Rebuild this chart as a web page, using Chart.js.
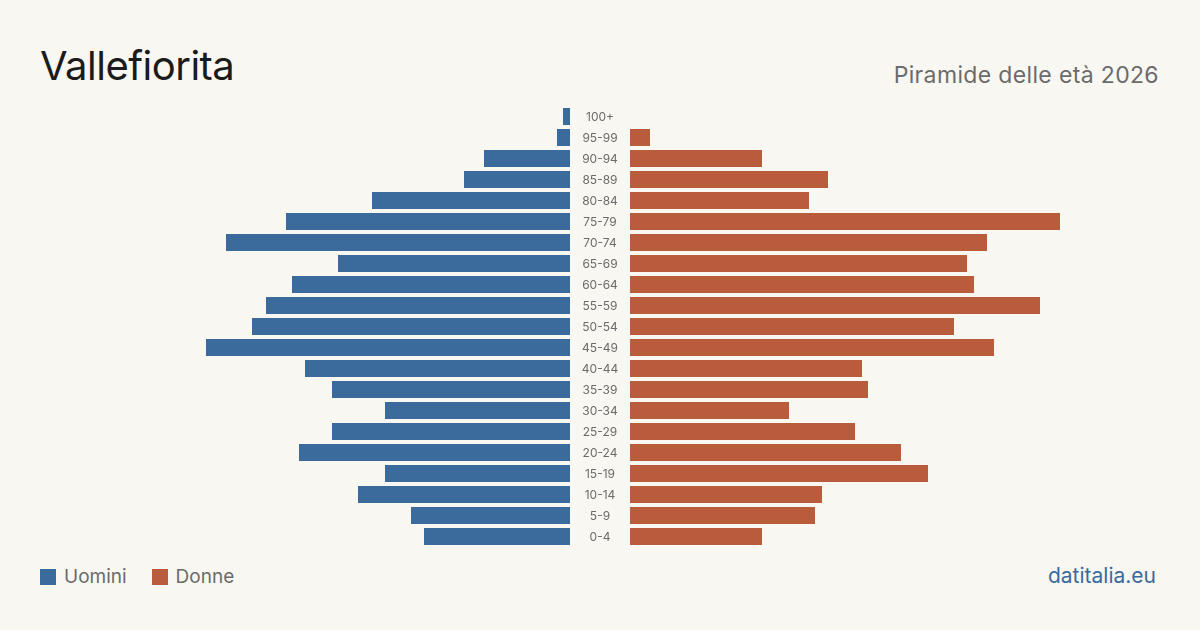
<!DOCTYPE html>
<html>
<head>
<meta charset="utf-8">
<script src="https://cdn.jsdelivr.net/npm/chart.js@4"></script>
<style>
  body { margin: 0; background: #f9f7f2; font-family: Inter, "Liberation Sans", sans-serif; }
  #page { position: relative; width: 1200px; height: 630px; overflow: hidden; }
  #title { position: absolute; left: 40px; top: 41px; font-size: 40px; color: #1b1b1b; letter-spacing: -0.5px; }
  #subtitle { position: absolute; right: 41px; top: 61px; font-size: 23px; color: #6b6b6b; letter-spacing: 0.35px; }
  .box { position: absolute; }
  #legend { position: absolute; left: 40px; top: 565px; font-size: 19px; color: #6b6b6b; display: flex; align-items: center; }
  .sw { width: 16px; height: 16px; display: inline-block; margin-right: 8px; }
  .item { display: flex; align-items: center; margin-right: 25px; }
  #source { position: absolute; right: 44px; top: 563px; font-size: 21px; color: #3b6a9c; }
</style>
</head>
<body>
<div id="page">
  <div id="title">Vallefiorita</div>
  <div id="subtitle">Piramide delle età 2026</div>
  <div class="box" style="left:40px; top:106px; width:530px; height:441px;"><canvas id="men"></canvas></div>
  <div class="box" style="left:570px; top:106px; width:590px; height:441px;"><canvas id="women"></canvas></div>
  <div id="legend">
    <span class="item"><span class="sw" style="background:#3b6a9c"></span>Uomini</span>
    <span class="item"><span class="sw" style="background:#b85c3c"></span>Donne</span>
  </div>
  <div id="source">datitalia.eu</div>
</div>
<script>
// Age classes, oldest first (top of the pyramid)
const ageGroups = ["100+", "95-99", "90-94", "85-89", "80-84", "75-79", "70-74", "65-69", "60-64", "55-59",
  "50-54", "45-49", "40-44", "35-39", "30-34", "25-29", "20-24", "15-19", "10-14", "5-9", "0-4"];
const men = [7, 13, 86, 106, 198, 284, 344, 232, 278, 304, 318, 364, 265, 238, 185, 238, 271, 185, 212, 159, 146];
const women = [0, 20, 132, 198, 179, 430, 357, 337, 344, 410, 324, 364, 232, 238, 159, 225, 271, 298, 192, 185, 132];
const axisMax = 530;

const blue = "#3b6a9c";
const red = "#b85c3c";

function baseOptions(reverse, padLeft) {
  return {
    indexAxis: "y",
    responsive: true,
    maintainAspectRatio: false,
    animation: false,
    layout: { padding: { left: padLeft, right: 0, top: 0, bottom: 0 } },
    plugins: { legend: { display: false }, tooltip: { enabled: false } },
    scales: {
      x: { min: 0, max: axisMax, reverse: reverse, display: false, grid: { display: false } },
      y: { display: false, grid: { display: false } },
    },
  };
}

// draws the age labels centred in the gap between the two halves
const ageLabels = {
  id: "ageLabels",
  afterDraw(chart) {
    const ctx = chart.ctx;
    const y = chart.scales.y;
    const cx = chart.chartArea.left - 30;
    ctx.save();
    ctx.fillStyle = "#6b6b6b";
    ctx.font = "12px Inter, 'Liberation Sans', sans-serif";
    ctx.textAlign = "center";
    ctx.textBaseline = "middle";
    ageGroups.forEach((label, i) => {
      ctx.fillText(label, cx, y.getPixelForValue(i) + 0.5);
    });
    ctx.restore();
  },
};

// Left side: men, bars grow leftwards
new Chart(document.getElementById("men"), {
  type: "bar",
  data: {
    labels: ageGroups,
    datasets: [{ data: men, backgroundColor: blue, barPercentage: 0.81, categoryPercentage: 1 }],
  },
  options: baseOptions(true, 0),
});

// Right side: women
new Chart(document.getElementById("women"), {
  type: "bar",
  data: {
    labels: ageGroups,
    datasets: [{ data: women, backgroundColor: red, barPercentage: 0.81, categoryPercentage: 1 }],
  },
  options: baseOptions(false, 60),
  plugins: [ageLabels],
});
</script>
</body>
</html>
